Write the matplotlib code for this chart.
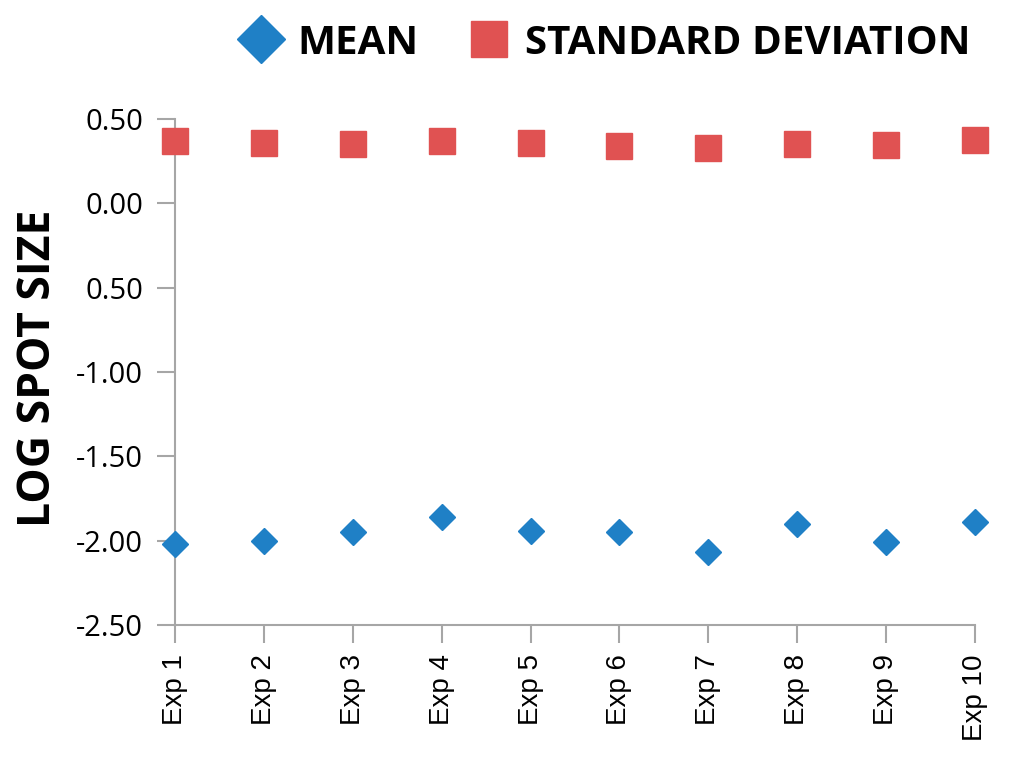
import matplotlib
matplotlib.use("Agg")
import matplotlib.pyplot as plt
from matplotlib.lines import Line2D

# data
experiments = ["Exp 1", "Exp 2", "Exp 3", "Exp 4", "Exp 5",
               "Exp 6", "Exp 7", "Exp 8", "Exp 9", "Exp 10"]
mean_vals = [-2.02, -2.00, -1.95, -1.86, -1.94, -1.95, -2.07, -1.90, -2.01, -1.89]
std_vals = [0.37, 0.36, 0.35, 0.37, 0.36, 0.34, 0.33, 0.35, 0.345, 0.375]
y_ticks = [0.5, 0.0, -0.5, -1.0, -1.5, -2.0, -2.5]
y_tick_labels = ["0.50", "0.00", "0.50", "-1.00", "-1.50", "-2.00", "-2.50"]

blue = "#1f80c6"
red = "#e05252"
grey = "#a6a6a6"

fig = plt.figure(figsize=(10.24, 7.63), dpi=100)
ax = fig.add_axes([175 / 1024, 1 - 625 / 763, 800 / 1024, 506 / 763])

x = list(range(len(experiments)))
ax.plot(x, mean_vals, linestyle="none", marker="D", markersize=13,
        color=blue, clip_on=False, zorder=3)
ax.plot(x, std_vals, linestyle="none", marker="s", markersize=19,
        color=red, clip_on=False, zorder=3)

ax.set_xlim(0, len(experiments) - 1)
ax.set_ylim(-2.5, 0.5)

ax.set_xticks(x)
ax.set_xticklabels(experiments, rotation=90, fontsize=20,
                   family=["Liberation Sans", "DejaVu Sans"])
ax.set_yticks(y_ticks)
ax.set_yticklabels(y_tick_labels, fontsize=21,
                   family=["Open Sans", "DejaVu Sans"])

for side in ["top", "right"]:
    ax.spines[side].set_visible(False)
for side in ["left", "bottom"]:
    ax.spines[side].set_color(grey)
    ax.spines[side].set_linewidth(1.5)
ax.tick_params(axis="both", length=13, width=1.5, color=grey)
ax.tick_params(axis="y", pad=10)
ax.tick_params(axis="x", pad=8)

fig.text(39 / 1024, 1 - 368 / 763, "LOG SPOT SIZE", rotation=90,
         ha="center", va="center", fontsize=32, fontweight="bold",
         family=["Open Sans", "DejaVu Sans"])

handles = [
    Line2D([], [], linestyle="none", marker="D", markersize=24, color=blue),
    Line2D([], [], linestyle="none", marker="s", markersize=26, color=red),
]
leg = fig.legend(handles, ["MEAN", "STANDARD DEVIATION"], ncol=2,
                 loc="center", bbox_to_anchor=(606 / 1024, 1 - 43 / 763),
                 frameon=False, handlelength=1.0, handletextpad=0.4,
                 columnspacing=1.24,
                 prop={"family": ["Open Sans", "DejaVu Sans"],
                       "weight": "bold", "size": 29})

fig.savefig("out.png", dpi=100)
